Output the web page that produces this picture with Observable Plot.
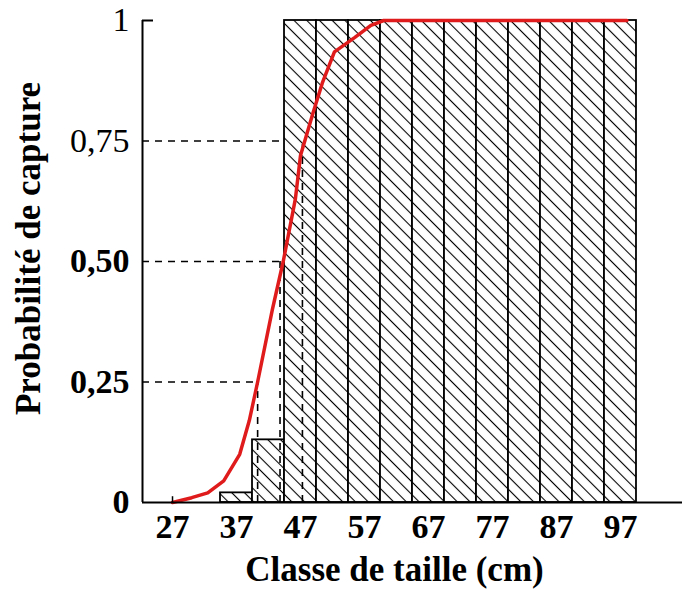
<!DOCTYPE html>
<html>
<head>
<meta charset="utf-8">
<script src="https://cdn.jsdelivr.net/npm/d3@7"></script>
<script src="https://cdn.jsdelivr.net/npm/@observablehq/plot@0.6"></script>
<style>
  html, body { margin: 0; padding: 0; background: white; }
</style>
</head>
<body>
<div id="chart"></div>
<script>
// Size classes (cm, class centres) and share of fish captured
const sizeClasses = [37, 42, 47, 52, 57, 62, 67, 72, 77, 82, 87, 92, 97];
const captureShare = [0.02, 0.13, 1, 1, 1, 1, 1, 1, 1, 1, 1, 1, 1];
const classWidth = 5;

// Fitted selectivity curve (size, probability)
const curveSize = [27, 30, 32.5, 35, 37.5, 39, 40.3, 42.6, 44.3, 46.2, 47, 49, 50.4, 52.3, 55.5, 58, 60, 98];
const curveProb = [0, 0.01, 0.02, 0.045, 0.10, 0.17, 0.25, 0.40, 0.50, 0.63, 0.72, 0.81, 0.87, 0.935, 0.965, 0.99, 1, 1];

// Reference probabilities and the sizes at which they are reached (L25, L50, L75)
const refProb = [0.25, 0.50, 0.75];
const refSize = [40.3, 43.8, 47.3];

// Tick labels
const xTicks = [27, 37, 47, 57, 67, 77, 87, 97];
const yTicksRegular = [1, 0.75];
const yTicksBold = [0.5, 0.25, 0];

const xTitle = "Classe de taille (cm)";
const yTitle = "Probabilité de capture";

const xDomain = [22.31, 106.69];

const bars = sizeClasses.map((c, i) => ({x1: c - classWidth / 2, x2: c + classWidth / 2, y: captureShare[i]}));
const curve = curveSize.map((s, i) => ({x: s, y: curveProb[i]}));
const refs = refProb.map((p, i) => ({p, L: refSize[i]}));

const fmt = d => d === 0 ? "0" : d === 1 ? "1" : d.toFixed(2).replace(".", ",");

const font = "'Liberation Serif', 'Times New Roman', serif";

const svg = Plot.plot({
  width: 682,
  height: 590,
  marginLeft: 142,
  marginTop: 20,
  marginRight: 0,
  marginBottom: 88,
  x: {domain: xDomain},
  y: {domain: [0, 1]},
  style: {fontFamily: font, background: "white", color: "black"},
  marks: [
    // horizontal dashed reference lines (behind bars)
    Plot.ruleY(refs, {y: "p", x1: xDomain[0], x2: "L", stroke: "black", strokeWidth: 1.6, strokeDasharray: "7,6"}),
    // bars
    Plot.rectY(bars, {x1: "x1", x2: "x2", y: "y", fill: "url(#hatch)", stroke: "black", strokeWidth: 1.8}),
    // vertical dashed reference lines
    Plot.ruleX(refs, {x: "L", y1: 0, y2: "p", stroke: "black", strokeWidth: 1.6, strokeDasharray: "7,6"}),
    // selectivity curve
    Plot.line(curve, {x: "x", y: "y", stroke: "#e01b1b", strokeWidth: 3.5, strokeLinejoin: "round"}),
    // axis lines
    Plot.ruleX([xDomain[0]], {stroke: "black", strokeWidth: 2}),
    Plot.ruleY([0], {stroke: "black", strokeWidth: 2}),
    Plot.ruleX([xTicks[0]], {y1: 0, y2: 0.012, stroke: "black", strokeWidth: 1.5}),
    // y axis ticks/labels
    Plot.axisY([1], {tickSize: -11, tickPadding: 24, fontSize: 34, fontWeight: "normal", tickFormat: fmt, label: null, strokeWidth: 2}),
    Plot.axisY([0.75], {tickSize: 0, tickPadding: 13, fontSize: 34, fontWeight: "normal", tickFormat: fmt, label: null}),
    Plot.axisY(yTicksBold, {tickSize: 0, tickPadding: 13, fontSize: 34, fontWeight: "bold", tickFormat: fmt, label: null}),
    // x axis labels
    Plot.axisX(xTicks, {tickSize: 0, tickPadding: 11, fontSize: 34, fontWeight: "bold", label: null}),
    // titles
    Plot.text([xTitle], {frameAnchor: "bottom", textAnchor: "middle", dx: -18, dy: 78, fontSize: 35, fontWeight: "bold", fill: "black"}),
    Plot.text([yTitle], {frameAnchor: "left", textAnchor: "middle", rotate: -90, dx: -114, dy: -13, fontSize: 35, fontWeight: "bold", fill: "black"})
  ]
});

// hatch pattern definition
const ns = "http://www.w3.org/2000/svg";
const defs = document.createElementNS(ns, "defs");
const pat = document.createElementNS(ns, "pattern");
const step = 9;
pat.setAttribute("id", "hatch");
pat.setAttribute("patternUnits", "userSpaceOnUse");
pat.setAttribute("width", step);
pat.setAttribute("height", step);
pat.setAttribute("patternTransform", "rotate(-45)");
const bg = document.createElementNS(ns, "rect");
bg.setAttribute("width", step);
bg.setAttribute("height", step);
bg.setAttribute("fill", "white");
const ln = document.createElementNS(ns, "line");
ln.setAttribute("x1", step / 2);
ln.setAttribute("x2", step / 2);
ln.setAttribute("y1", "0");
ln.setAttribute("y2", step);
ln.setAttribute("stroke", "black");
ln.setAttribute("stroke-width", "1.1");
pat.appendChild(bg);
pat.appendChild(ln);
defs.appendChild(pat);
svg.insertBefore(defs, svg.firstChild);

document.getElementById("chart").appendChild(svg);
</script>
</body>
</html>
